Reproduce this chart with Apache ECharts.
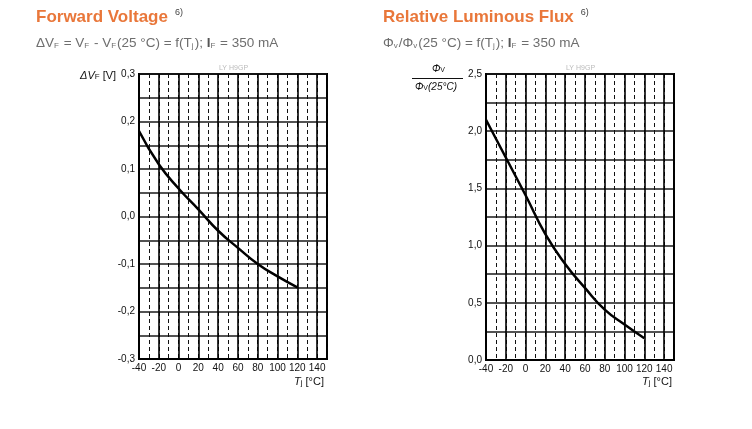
<!DOCTYPE html>
<html>
<head>
<meta charset="utf-8">
<script src="https://cdn.jsdelivr.net/npm/echarts@6/dist/echarts.min.js"></script>
<style>
  html, body { margin: 0; padding: 0; background: #fff; }
  #chart { width: 752px; height: 429px; }
</style>
</head>
<body>
<div id="chart"></div>
<script>
// junction temperature samples, deg C
const tempC = [-40, -20, 0, 20, 40, 60, 80, 100, 120];
// forward voltage shift vs 25 deg C, V
const deltaVf = [0.18, 0.11, 0.059, 0.015, -0.03, -0.066, -0.1, -0.126, -0.149];
// relative luminous flux, normalised to 25 deg C
const relFlux = [2.10, 1.77, 1.44, 1.10, 0.84, 0.63, 0.44, 0.31, 0.19];

const xTicks = [-40, -20, 0, 20, 40, 60, 80, 100, 120, 140];

const FONT = '"Liberation Sans", Arial, sans-serif';
const ORANGE = '#e9773a';

function comma(v, digits) {
    return v.toFixed(digits).replace('.', ',');
}

function pairs(ys) {
    return tempC.map((t, i) => [t, ys[i]]);
}

// two x axes per grid: dashed minor lines, then solid major lines + labels
function xAxes(gridIndex) {
    return [
        {
            type: 'value', gridIndex, position: 'bottom', min: -40, max: 150, interval: 10,
            axisLine: { show: false }, axisTick: { show: false }, axisLabel: { show: false },
            splitLine: { show: true, lineStyle: { color: '#111', width: 1, type: [4, 3] } }
        },
        {
            type: 'value', gridIndex, position: 'bottom', min: -40, max: 150, interval: 20,
            axisLine: { show: true, onZero: false, lineStyle: { color: '#000', width: 2 } },
            axisTick: { show: false },
            axisLabel: {
                color: '#111', fontSize: 10, fontFamily: FONT, margin: 4, showMaxLabel: false,
                formatter: v => (xTicks.indexOf(v) >= 0 ? String(v) : '')
            },
            splitLine: { show: true, lineStyle: { color: '#000', width: 1.6 } }
        }
    ];
}

function yAxis(gridIndex, min, max, step, labelStep, digits) {
    return {
        type: 'value', gridIndex, min, max, interval: step,
        axisLine: { show: true, onZero: false, lineStyle: { color: '#000', width: 2 } },
        axisTick: { show: false },
        axisLabel: {
            color: '#111', fontSize: 10, fontFamily: FONT, margin: 4,
            formatter: v => {
                const k = v / labelStep;
                return Math.abs(k - Math.round(k)) < 1e-6 ? comma(v, digits) : '';
            }
        },
        splitLine: { show: true, lineStyle: { color: '#1a1a1a', width: 1.5 } }
    };
}

const sub = {
    t: { fontSize: 13.5, color: '#6e6e6e', fontFamily: FONT, fontWeight: 'normal', lineHeight: 16, verticalAlign: 'bottom' },
    b: { fontSize: 13.5, color: '#555', fontFamily: FONT, fontWeight: 'bold', lineHeight: 16, verticalAlign: 'bottom' },
    s: { fontSize: 8, color: '#6e6e6e', fontFamily: FONT, fontWeight: 'normal', lineHeight: 11, verticalAlign: 'bottom', padding: [0, 1, 0, 0] }
};
const head = {
    m: { fontSize: 17, fontWeight: 'bold', color: ORANGE, fontFamily: FONT },
    sup: { fontSize: 9, fontWeight: 'normal', color: '#444', fontFamily: FONT, padding: [0, 0, 10, 2] }
};

const axisName = {
    i: { fontSize: 11, fontStyle: 'italic', fill: '#111', fontFamily: FONT, verticalAlign: 'bottom', lineHeight: 14 },
    s: { fontSize: 8, fill: '#111', fontFamily: FONT, verticalAlign: 'bottom', lineHeight: 11 },
    n: { fontSize: 11, fill: '#111', fontFamily: FONT, verticalAlign: 'bottom', lineHeight: 14 }
};
const fracName = {
    i: { fontSize: 10, fontStyle: 'italic', fill: '#111', fontFamily: FONT, verticalAlign: 'bottom', lineHeight: 12 },
    s: { fontSize: 7, fill: '#111', fontFamily: FONT, verticalAlign: 'bottom', lineHeight: 9 }
};

const chart = echarts.init(document.getElementById('chart'), null, { renderer: 'canvas' });

chart.setOption({
    animation: false,
    backgroundColor: '#fff',
    title: [
        { text: '{m|Forward Voltage} {sup|6)}', left: 31, top: 3, textStyle: { rich: head } },
        {
            text: '{t|\u0394V}{s|F}{t| = V}{s|F}{t| - V}{s|F}{t|(25 °C) = f(T}{s|j}{t|); }{b|I}{s|F}{t| = 350 mA}',
            left: 31, top: 29, textStyle: { fontWeight: 'normal', rich: sub }
        },
        { text: '{m|Relative Luminous Flux} {sup|6)}', left: 378, top: 3, textStyle: { rich: head } },
        {
            text: '{t|\u03A6}{s|v}{t|/\u03A6}{s|v}{t|(25 °C) = f(T}{s|j}{t|); }{b|I}{s|F}{t| = 350 mA}',
            left: 378, top: 29, textStyle: { fontWeight: 'normal', rich: sub }
        }
    ],
    grid: [
        { left: 139, top: 74, width: 188, height: 285, show: true, borderColor: '#000', borderWidth: 2 },
        { left: 486, top: 74, width: 188, height: 286, show: true, borderColor: '#000', borderWidth: 2 }
    ],
    xAxis: [...xAxes(0), ...xAxes(1)],
    yAxis: [
        yAxis(0, -0.3, 0.3, 0.05, 0.1, 1),
        yAxis(1, 0, 2.5, 0.25, 0.5, 1)
    ],
    series: [
        {
            type: 'line', xAxisIndex: 1, yAxisIndex: 0, data: pairs(deltaVf),
            smooth: 0.5, showSymbol: false,
            lineStyle: { color: '#000', width: 2.5 }
        },
        {
            type: 'line', xAxisIndex: 3, yAxisIndex: 1, data: pairs(relFlux),
            smooth: 0.5, showSymbol: false,
            lineStyle: { color: '#000', width: 2.5 }
        }
    ],
    graphic: [
        // watermarks
        { type: 'text', left: 219, top: 65, style: { text: 'LY H9GP', fontSize: 7, fill: '#bbb', fontFamily: FONT } },
        { type: 'text', left: 566, top: 65, style: { text: 'LY H9GP', fontSize: 7, fill: '#bbb', fontFamily: FONT } },
        // left y axis name
        { type: 'text', left: 80, top: 70, style: { text: '{i|\u0394V}{s|F}{n| [V]}', rich: axisName } },
        // x axis names
        { type: 'text', left: 294, top: 376, style: { text: '{i|T}{s|j}{n| [°C]}', rich: axisName } },
        { type: 'text', left: 642, top: 376, style: { text: '{i|T}{s|j}{n| [°C]}', rich: axisName } },
        // right y axis name as a fraction
        { type: 'text', left: 432, top: 64, style: { text: '{i|\u03A6}{s|V}', rich: fracName } },
        { type: 'line', shape: { x1: 412, y1: 78.5, x2: 463, y2: 78.5 }, style: { stroke: '#111', lineWidth: 1 } },
        { type: 'text', left: 415, top: 82, style: { text: '{i|\u03A6}{s|V}{i|(25°C)}', rich: fracName } }
    ]
});
</script>
</body>
</html>
